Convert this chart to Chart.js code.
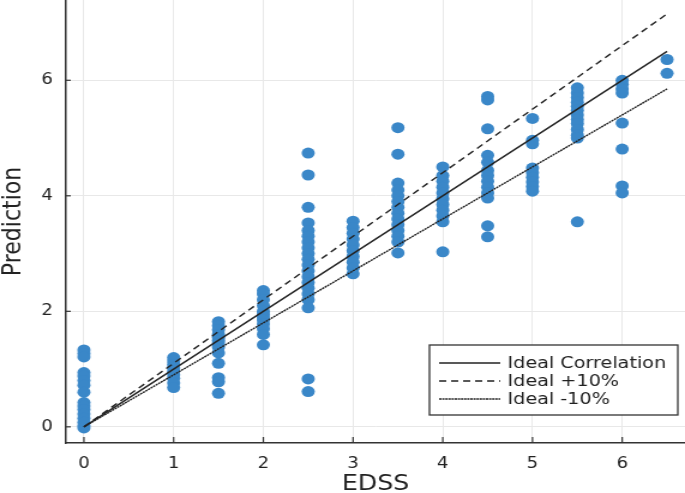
<!DOCTYPE html>
<html>
<head>
<meta charset="utf-8">
<script src="https://cdn.jsdelivr.net/npm/chart.js@4/dist/chart.umd.min.js"></script>
<style>
  html, body { margin: 0; padding: 0; background: #fff; }
</style>
</head>
<body>
<!-- drawn at 571 wide and stretched to 685, like the original figure -->
<canvas id="scatterChart" width="571" height="493" style="display:block;width:685px;height:493px"></canvas>
<script>
// EDSS levels and the predictions at each level
const edss = [0, 1, 1.5, 2, 2.5, 3, 3.5, 4, 4.5, 5, 5.5, 6, 6.5];
const predictions = [
  [1.33, 1.27, 1.21, 0.94, 0.88, 0.8, 0.72, 0.6, 0.42, 0.36, 0.3, 0.22, 0.15, 0.08, 0.02, -0.02],
  [1.2, 1.14, 1.08, 1.02, 0.96, 0.9, 0.84, 0.76, 0.68],
  [1.82, 1.75, 1.68, 1.6, 1.55, 1.5, 1.45, 1.38, 1.28, 1.1, 0.85, 0.78, 0.58],
  [2.36, 2.3, 2.2, 2.1, 2.0, 1.95, 1.9, 1.85, 1.78, 1.7, 1.6, 1.42],
  [4.74, 4.36, 3.8, 3.53, 3.4, 3.3, 3.2, 3.1, 3.0, 2.9, 2.8, 2.7, 2.6, 2.5, 2.4, 2.3, 2.2, 2.06, 0.83, 0.61],
  [3.56, 3.45, 3.35, 3.25, 3.15, 3.05, 2.95, 2.85, 2.75, 2.65],
  [5.18, 4.72, 4.22, 4.1, 4.0, 3.9, 3.8, 3.7, 3.6, 3.5, 3.4, 3.3, 3.2, 3.01],
  [4.5, 4.35, 4.25, 4.15, 4.05, 3.95, 3.85, 3.75, 3.65, 3.55, 3.03],
  [5.72, 5.66, 5.16, 4.7, 4.58, 4.44, 4.35, 4.25, 4.15, 4.05, 3.96, 3.48, 3.29],
  [5.34, 4.96, 4.9, 4.48, 4.4, 4.32, 4.24, 4.16, 4.08],
  [5.87, 5.78, 5.7, 5.62, 5.55, 5.48, 5.4, 5.32, 5.25, 5.15, 5.05, 5.0, 3.55],
  [6.0, 5.93, 5.85, 5.78, 5.26, 4.81, 4.17, 4.05],
  [6.36, 6.12]
];

// reference lines
const lineX = [0, 6.5];
const idealY = [0, 6.5];
const plus10Y = [0, 7.15];
const minus10Y = [0, 5.85];

const xTicks = [0, 1, 2, 3, 4, 5, 6];
const yTicks = [0, 2, 4, 6];

const points = [];
edss.forEach((x, i) => {
  predictions[i].forEach(y => points.push({x: x, y: y}));
});

const toXY = (xs, ys) => xs.map((x, i) => ({x: x, y: ys[i]}));

const font = 'DejaVu Sans';
const ink = '#222';

// legend box inside the plot, bottom right, and inward tick marks
const plotExtras = {
  id: 'plotExtras',
  afterDraw(chart) {
    const c = chart.ctx;
    const xs = chart.scales.x, ys = chart.scales.y;
    const area = chart.chartArea;
    c.save();
    c.strokeStyle = '#333';
    c.lineWidth = 1.2;
    xs.ticks.forEach(t => {
      const px = xs.getPixelForValue(t.value);
      c.beginPath(); c.moveTo(px, area.bottom); c.lineTo(px, area.bottom - 6); c.stroke();
    });
    ys.ticks.forEach(t => {
      const py = ys.getPixelForValue(t.value);
      c.beginPath(); c.moveTo(area.left, py); c.lineTo(area.left + 4, py); c.stroke();
    });

    const bx = 358, by = 345, bw = 207, bh = 70;
    c.fillStyle = '#fff';
    c.fillRect(bx, by, bw, bh);
    c.strokeStyle = '#333';
    c.lineWidth = 1.3;
    c.strokeRect(bx, by, bw, bh);
    c.font = '16px "' + font + '"';
    c.textBaseline = 'middle';
    const lines = chart.data.datasets.filter(d => d.type === 'line');
    lines.forEach((d, i) => {
      const y = by + 18 + i * 18;
      c.strokeStyle = d.borderColor;
      c.lineWidth = d.borderWidth;
      c.setLineDash(d.borderDash || []);
      c.beginPath(); c.moveTo(bx + 8, y); c.lineTo(bx + 59, y); c.stroke();
      c.setLineDash([]);
      c.fillStyle = ink;
      c.fillText(d.label, bx + 65, y + 1);
    });
    c.restore();
  }
};

const ctx = document.getElementById('scatterChart');

new Chart(ctx, {
  type: 'scatter',
  data: {
    datasets: [{
      type: 'line',
      label: 'Ideal Correlation',
      data: toXY(lineX, idealY),
      borderColor: '#222',
      borderWidth: 1.4,
      pointRadius: 0,
      fill: false
    }, {
      type: 'line',
      label: 'Ideal +10%',
      data: toXY(lineX, plus10Y),
      borderColor: '#222',
      borderWidth: 1.4,
      borderDash: [6, 4],
      pointRadius: 0,
      fill: false
    }, {
      type: 'line',
      label: 'Ideal -10%',
      data: toXY(lineX, minus10Y),
      borderColor: '#222',
      borderWidth: 1.4,
      borderDash: [2, 0.6],
      pointRadius: 0,
      fill: false
    }, {
      label: 'Prediction',
      data: points,
      backgroundColor: 'rgb(58, 135, 200)',
      borderWidth: 0,
      pointRadius: 5.5,
      pointHoverRadius: 5.5
    }]
  },
  options: {
    responsive: false,
    devicePixelRatio: 1,
    animation: false,
    layout: { padding: 0, autoPadding: false },
    plugins: {
      legend: { display: false },
      tooltip: { enabled: false }
    },
    scales: {
      x: {
        type: 'linear',
        min: -0.2,
        max: 6.7,
        afterBuildTicks: s => { s.ticks = xTicks.map(v => ({value: v})); },
        afterFit: s => { s.height = 50; s.paddingLeft = 0; s.paddingRight = 0; },
        grid: { color: '#e8e8e8', drawTicks: false },
        border: { color: '#333', width: 1.5 },
        ticks: { color: ink, padding: 12, font: { family: font, size: 15 } },
        title: {
          display: true,
          text: 'EDSS',
          color: ink,
          padding: 0,
          font: { family: font, size: 21, lineHeight: 0.8 }
        }
      },
      y: {
        type: 'linear',
        min: -0.28,
        max: 7.39,
        afterBuildTicks: s => { s.ticks = yTicks.map(v => ({value: v})); },
        afterFit: s => { s.width = 55; s.paddingTop = 0; s.paddingBottom = 0; },
        grid: { color: '#e8e8e8', drawTicks: false },
        border: { color: '#333', width: 1.5 },
        ticks: { color: ink, padding: 11, font: { family: font, size: 15 } },
        title: {
          display: true,
          text: 'Prediction',
          color: ink,
          padding: 0,
          font: { family: font, size: 22, lineHeight: 1 }
        }
      }
    }
  },
  plugins: [plotExtras]
});
</script>
</body>
</html>
